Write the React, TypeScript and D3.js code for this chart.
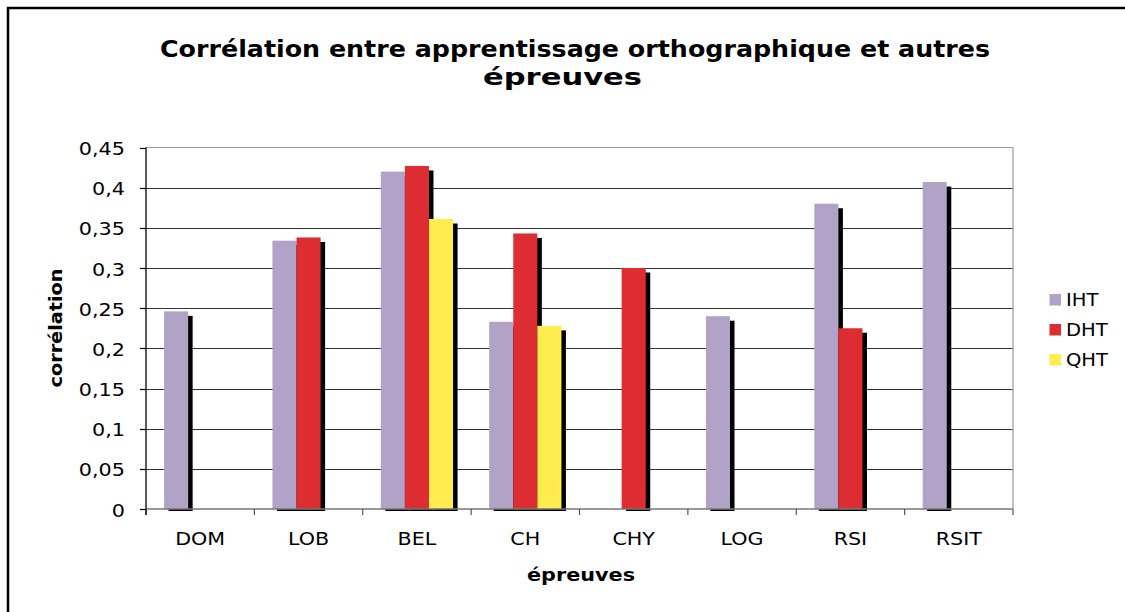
import React, { useEffect } from "react";
import * as d3 from "d3";

const categories = ["DOM", "LOB", "BEL", "CH", "CHY", "LOG", "RSI", "RSIT"];
const seriesNames = ["IHT", "DHT", "QHT"];
const valuesIHT: (number | null)[] = [0.246, 0.334, 0.42, 0.233, null, 0.24, 0.38, 0.407];
const valuesDHT: (number | null)[] = [null, 0.338, 0.427, 0.343, 0.3, null, 0.225, null];
const valuesQHT: (number | null)[] = [null, null, 0.361, 0.228, null, null, null, null];
const yTicks = [0, 0.05, 0.1, 0.15, 0.2, 0.25, 0.3, 0.35, 0.4, 0.45];
const colors = ["#B1A3C8", "#DD2C32", "#FFEC4F"];

const FONT = "'DejaVu Sans', Verdana, sans-serif";

export default function App() {
  useEffect(() => {
    document.body.style.margin = "0";
    document.documentElement.style.overflow = "hidden";
  }, []);
  const left = 146, right = 1013, top = 147.5, bottom = 509;
  const x = d3.scaleBand<string>().domain(categories).range([left, right]).paddingInner(0).paddingOuter(0);
  const x1 = d3.scaleBand<string>().domain(seriesNames).range([0, x.bandwidth()]).paddingInner(0).paddingOuter(0.75);
  const y = d3.scaleLinear().domain([0, 0.45]).range([bottom, top]);
  const series = [valuesIHT, valuesDHT, valuesQHT];
  const fmt = (v: number) => String(+v.toFixed(2)).replace(".", ",");

  const bars: { sx: number; v: number; si: number }[] = [];
  series.forEach((vals, si) => {
    vals.forEach((v, ci) => {
      if (v != null) bars.push({ sx: (x(categories[ci]) as number) + (x1(seriesNames[si]) as number), v, si });
    });
  });
  const bw = x1.bandwidth();
  const off = 4.5;

  const stretched = (tx: number, ty: number, txt: string, anchor: string, size: number, sx: number) => (
    <text transform={`translate(${tx},${ty}) scale(${sx},1)`} textAnchor={anchor} fontSize={size} fontFamily={FONT} fill="#000">
      {txt}
    </text>
  );

  return (
    <svg width={1125} height={612} style={{ position: "absolute", left: 0, top: 0, display: "block", background: "#fff" }}>
      <rect x={0} y={0} width={1125} height={612} fill="#fff" />
      {/* outer frame */}
      <line x1={7} y1={8} x2={1125} y2={8} stroke="#000" strokeWidth={2.5} />
      <line x1={8} y1={7} x2={8} y2={612} stroke="#000" strokeWidth={2.5} />

      {/* title */}
      <text x={575} y={57} textAnchor="middle" fontSize={23} fontWeight="bold" fontFamily={FONT} textLength={830} lengthAdjust="spacingAndGlyphs">
        Corrélation entre apprentissage orthographique et autres
      </text>
      <text x={562.5} y={85} textAnchor="middle" fontSize={23} fontWeight="bold" fontFamily={FONT} textLength={159} lengthAdjust="spacingAndGlyphs">
        épreuves
      </text>

      {/* gridlines */}
      {yTicks.slice(1, -1).map((t) => (
        <line key={t} x1={left} x2={right} y1={Math.round(y(t)) + 0.5} y2={Math.round(y(t)) + 0.5} stroke="#333" strokeWidth={1.2} />
      ))}
      <line x1={left} x2={right} y1={top} y2={top} stroke="#999" strokeWidth={1.2} />
      <line x1={right} x2={right} y1={top} y2={bottom} stroke="#999" strokeWidth={1.2} />

      {/* shadows */}
      {bars.map((b, i) => (
        <rect key={"s" + i} x={b.sx + off} y={y(b.v) + off} width={bw} height={Math.max(0, bottom + 2 - (y(b.v) + off))} fill="#000" />
      ))}
      {/* bars */}
      {bars.map((b, i) => (
        <rect key={"b" + i} x={b.sx} y={y(b.v)} width={bw} height={bottom - y(b.v)} fill={colors[b.si]} />
      ))}

      {/* axes */}
      <line x1={left} x2={right} y1={bottom} y2={bottom} stroke="#777" strokeWidth={1.5} />
      {d3.range(categories.length + 1).map((i) => {
        const xx = left + i * x.step();
        return <line key={"xt" + i} x1={xx} x2={xx} y1={bottom} y2={bottom + 6} stroke="#555" strokeWidth={1.2} />;
      })}
      <line x1={left} x2={left} y1={top} y2={bottom + 6} stroke="#000" strokeWidth={1.3} />
      {yTicks.map((t) => (
        <g key={"yt" + t}>
          <line x1={left - 6} x2={left} y1={Math.round(y(t)) + 0.5} y2={Math.round(y(t)) + 0.5} stroke="#000" strokeWidth={1.2} />
          {stretched(125, y(t) + 7.5, fmt(t), "end", 17, 1.22)}
        </g>
      ))}
      {categories.map((c) => (
        <g key={"xl" + c}>{stretched((x(c) as number) + x.bandwidth() / 2, 545, c, "middle", 17.5, 1.18)}</g>
      ))}

      {/* axis titles */}
      <text x={581} y={581} textAnchor="middle" fontSize={18} fontWeight="bold" fontFamily={FONT} textLength={108} lengthAdjust="spacingAndGlyphs">
        épreuves
      </text>
      <text transform="translate(62,328) rotate(-90)" textAnchor="middle" fontSize={18} fontWeight="bold" fontFamily={FONT} textLength={119} lengthAdjust="spacingAndGlyphs">
        corrélation
      </text>

      {/* legend */}
      {seriesNames.map((s, i) => (
        <g key={"lg" + s}>
          <rect x={1049.5} y={294 + i * 30} width={11.5} height={11.5} fill={colors[i]} />
          {stretched(1066, 305.5 + i * 30, s, "start", 17, 1.15)}
        </g>
      ))}
    </svg>
  );
}
